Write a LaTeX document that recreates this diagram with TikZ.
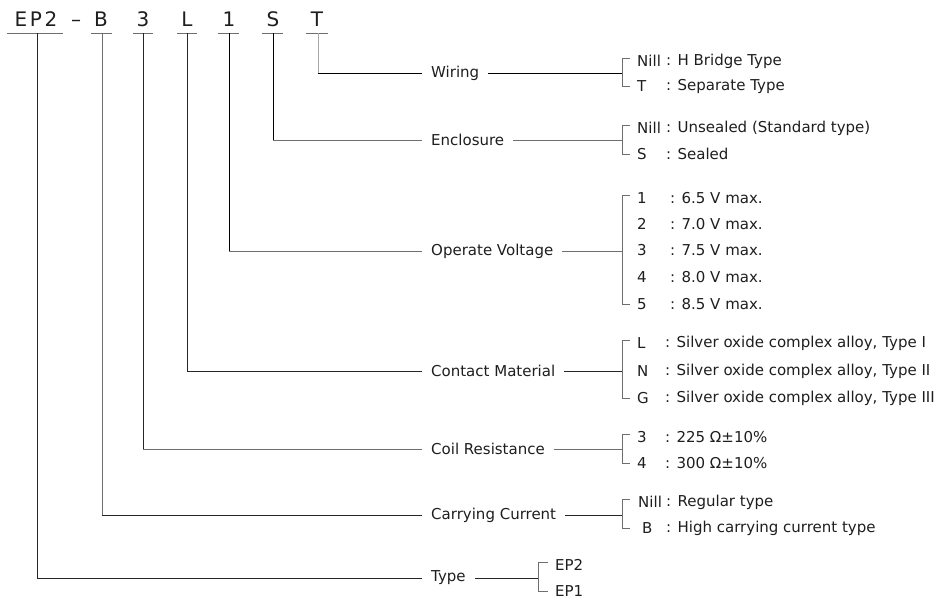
\documentclass[tikz,border=0pt]{standalone}
\usepackage{fontspec}
\setmainfont{DejaVu Sans}
\usetikzlibrary{calc}
\definecolor{txt}{HTML}{1E1E1E}
\definecolor{dk}{HTML}{262626}
\definecolor{md}{HTML}{6E6E6E}
\definecolor{lt}{HTML}{A8A8A8}
\begin{document}
\begin{tikzpicture}[x=1pt,y=-1pt,
  every node/.style={text=txt,font=\fontsize{15}{18}\selectfont,inner sep=0pt},
  codech/.style={font=\fontsize{20}{24}\selectfont,anchor=base},
  lab/.style={anchor=west,inner xsep=9pt,inner ysep=0pt},
  key/.style={anchor=west},
  desc/.style={anchor=west},
  ln/.style={line width=0.8pt},
  brk/.style={line width=0.8pt,draw=md},
  ul/.style={line width=0.8pt,draw=md}]
\useasboundingbox (0,0) rectangle (948,600);

% ---- code letters ----
\node[codech] (cE) at (21,26) {E};
\node[codech] (cP) at (36,26) {P};
\node[codech] (c2) at (51,26) {2};
\node[codech] (cd) at (76,26) {–};
\node[codech] (cB) at (101,26) {B};
\node[codech] (c3) at (143,26) {3};
\node[codech] (cL) at (187,26) {L};
\node[codech] (c1) at (229,26) {1};
\node[codech] (cS) at (273,26) {S};
\node[codech] (cT) at (317,26) {T};

% underlines
\draw[ul] (7,33) -- (63,33);
\draw[ul] (91,33) -- (112,33);
\draw[ul] (133,33) -- (153,33);
\draw[ul] (177,33) -- (197,33);
\draw[ul] (218,33) -- (239,33);
\draw[ul] (262,33) -- (283,33);
\draw[ul] (306,33) -- (328,33);
\coordinate (uEP) at (37,33);
\coordinate (uB) at (102,33);
\coordinate (u3) at (143,33);
\coordinate (uL) at (187,33);
\coordinate (u1) at (229,33);
\coordinate (uS) at (273,33);
\coordinate (uT) at (318,33);

% ---- category labels ----
\node[lab] (wire) at (422,73) {Wiring};
\node[lab] (encl) at (422,140) {Enclosure};
\node[lab] (volt) at (422,251) {Operate Voltage};
\node[lab] (cont) at (422,371) {Contact Material};
\node[lab] (coil) at (422,449) {Coil Resistance};
\node[lab] (carr) at (422,515) {Carrying Current};
\node[lab] (type) at (422,578) {Type};

% ---- options ----
\node[key] (w1) at (637,61) {Nill};  \node[desc] (w1d) at (666,61) {: H Bridge Type};
\node[key] (w2) at (637,86) {T};     \node[desc] (w2d) at (666,86) {: Separate Type};

\node[key] (e1) at (637,128) {Nill}; \node[desc] (e1d) at (666,128) {: Unsealed (Standard type)};
\node[key] (e2) at (637,154) {S};    \node[desc] (e2d) at (666,154) {: Sealed};

\node[key] (v1) at (637,198) {1}; \node[desc] (v1d) at (670,198) {: 6.5 V max.};
\node[key] (v2) at (637,224) {2}; \node[desc] (v2d) at (670,224) {: 7.0 V max.};
\node[key] (v3) at (637,250) {3}; \node[desc] (v3d) at (670,250) {: 7.5 V max.};
\node[key] (v4) at (637,277) {4}; \node[desc] (v4d) at (670,277) {: 8.0 V max.};
\node[key] (v5) at (637,304) {5}; \node[desc] (v5d) at (670,304) {: 8.5 V max.};

\node[key] (m1) at (637,343) {L}; \node[desc] (m1d) at (665,343) {: Silver oxide complex alloy, Type I};
\node[key] (m2) at (637,371) {N}; \node[desc] (m2d) at (665,371) {: Silver oxide complex alloy, Type II};
\node[key] (m3) at (637,398) {G}; \node[desc] (m3d) at (665,398) {: Silver oxide complex alloy, Type III};

\node[key] (r1) at (637,437) {3}; \node[desc] (r1d) at (665,437) {: 225 Ω±10\%};
\node[key] (r2) at (637,463) {4}; \node[desc] (r2d) at (665,463) {: 300 Ω±10\%};

\node[key] (k1) at (638,502) {Nill}; \node[desc] (k1d) at (666,502) {: Regular type};
\node[key] (k2) at (642,528) {B};    \node[desc] (k2d) at (666,528) {: High carrying current type};

\node[key] (t1) at (555,565) {EP2};
\node[key] (t2) at (555,591) {EP1};

% ---- connectors: code letter -> label ----
\draw[ln,draw=lt] (uT) -- (uT |- wire.west);
\draw[ln,draw=black] (uT |- wire.west) -- (wire.west);
\draw[ln,draw=black] (uS) -- (uS |- encl.west);
\draw[ln,draw=md] (uS |- encl.west) -- (encl.west);
\draw[ln,draw=black] (u1) -- (u1 |- volt.west);
\draw[ln,draw=md] (u1 |- volt.west) -- (volt.west);
\draw[ln,draw=dk] (uL) |- (cont.west);
\draw[ln,draw=dk] (u3) -- (u3 |- coil.west);
\draw[ln,draw=md] (u3 |- coil.west) -- (coil.west);
\draw[ln,draw=md] (uB) -- (uB |- carr.west);
\draw[ln,draw=dk] (uB |- carr.west) -- (carr.west);
\draw[ln,draw=dk] (uEP) |- (type.west);

% ---- connectors: label -> bracket ----
\draw[ln,draw=black] (wire.east) -- ($(wire.east -| w1.west)+(-15,0)$);
\draw[ln,draw=md] (encl.east) -- ($(encl.east -| e1.west)+(-15,0)$);
\draw[ln,draw=md] (volt.east) -- ($(volt.east -| v1.west)+(-15,0)$);
\draw[ln,draw=dk] (cont.east) -- ($(cont.east -| m1.west)+(-15,0)$);
\draw[ln,draw=md] (coil.east) -- ($(coil.east -| r1.west)+(-15,0)$);
\draw[ln,draw=dk] (carr.east) -- ($(carr.east -| w1.west)+(-15,0)$);
\draw[ln,draw=dk] (type.east) -- ($(type.east -| t1.west)+(-17,0)$);

% ---- brackets ----
\draw[brk] ($(w1.west)+(-7,-3)$) -- ++(-8,0) |- ($(w2.west)+(-7,0)$);
\draw[brk] ($(e1.west)+(-7,-3)$) -- ++(-8,0) |- ($(e2.west)+(-7,0)$);
\draw[brk] ($(v1.west)+(-7,-3)$) -- ++(-8,0) |- ($(v5.west)+(-7,0)$);
\draw[brk] ($(m1.west)+(-7,-3)$) -- ++(-8,0) |- ($(m3.west)+(-7,0)$);
\draw[brk] ($(r1.west)+(-7,-3)$) -- ++(-8,0) |- ($(r2.west)+(-7,0)$);
\draw[brk] ($(k1.west)+(-8,-3)$) -- ++(-8,0) |- ($(k2.west)+(-12,0)$);
\draw[brk] ($(t1.west)+(-7,-3)$) -- ++(-10,0) |- ($(t2.west)+(-7,0)$);
\end{tikzpicture}
\end{document}
